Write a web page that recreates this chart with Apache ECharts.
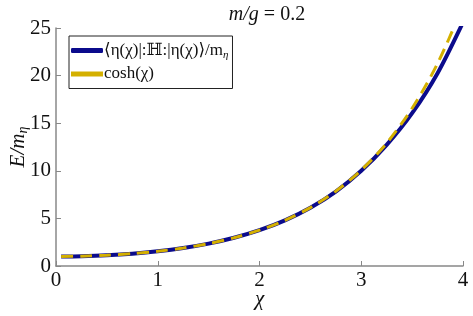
<!DOCTYPE html>
<html><head><meta charset="utf-8">
<script src="https://cdn.jsdelivr.net/npm/echarts@6/dist/echarts.min.js"></script>
<style>html,body{margin:0;padding:0;background:#fff}#c{width:473px;height:316px}</style>
</head><body><div id="c"></div>
<script>
const chiValues = [0.05, 0.25, 0.5, 0.75, 1, 1.25, 1.5, 1.75, 2, 2.25, 2.5, 2.75, 3, 3.25, 3.5, 3.75, 4];
const energyValues = [1.001, 1.031, 1.128, 1.295, 1.543, 1.888, 2.352, 2.963, 3.760, 4.790, 6.115, 7.820, 10.00, 12.72, 16.05, 20.25, 25.6];
const coshValues = [1.001, 1.031, 1.128, 1.295, 1.543, 1.888, 2.352, 2.964, 3.762, 4.797, 6.132, 7.853, 10.07, 12.91, 16.57, 21.27, 27.31];
const xTicks = [0, 1, 2, 3, 4];
const yTicks = [0, 5, 10, 15, 20, 25];
const seriesNames = ['energy', 'cosh'];

const FONT = '"Liberation Serif", "DejaVu Serif", serif';
const chart = echarts.init(document.getElementById('c'), null, {renderer: 'canvas'});
const pairs = ys => chiValues.map((x, i) => [x, ys[i]]);
chart.setOption({
  animation: false,
  grid: {left: 56, right: 10, top: 28, bottom: 50, containLabel: false, outerBoundsMode: 'none'},
  title: {
    text: '{i|m/g} {n|= 0.2}',
    left: 262, textAlign: 'center', top: 0,
    textStyle: {fontWeight: 'normal', rich: {
      i: {fontFamily: FONT, fontStyle: 'italic', fontWeight: 'normal', fontSize: 20, color: '#111'},
      n: {fontFamily: FONT, fontWeight: 'normal', fontSize: 20, color: '#111'}
    }}
  },
  legend: {
    left: 69, top: 36, orient: 'vertical',
    backgroundColor: '#fff', borderColor: '#222', borderWidth: 1, borderRadius: 0,
    padding: [6, 4, 6, 2], itemGap: 5, itemWidth: 32, itemHeight: 5,
    data: [
      {name: 'energy', icon: 'roundRect', itemStyle: {color: '#0b0b8c'}},
      {name: 'cosh', icon: 'rect', itemStyle: {color: '#d4b000'}}
    ],
    formatter: n => n === 'energy' ? '{t|⟨η(χ)|:ℍ:|η(χ)⟩/m}{s|η}' : '{t|cosh(χ)}',
    textStyle: {padding: [0, 0, 0, -4], rich: {
      t: {fontFamily: FONT, fontSize: 17, color: '#111'},
      s: {fontFamily: FONT, fontStyle: 'italic', fontSize: 11, color: '#111', padding: [9, 0, 0, 0]}
    }}
  },
  xAxis: {
    type: 'value', min: 0, max: 4, interval: 1,
    name: 'χ', nameLocation: 'middle', nameGap: 23, nameMoveOverlap: false,
    nameTextStyle: {fontFamily: FONT, fontStyle: 'italic', fontSize: 21, color: '#111'},
    axisLine: {lineStyle: {color: '#888', width: 1.5}},
    axisTick: {inside: true, length: 5, lineStyle: {color: '#888'}},
    axisLabel: {fontFamily: FONT, fontSize: 21, color: '#111', margin: 4, formatter: v => xTicks.includes(v) ? String(v) : ''},
    splitLine: {show: false}
  },
  yAxis: {
    type: 'value', min: 0, max: 25, interval: 5,
    name: '{i|E/m}{s|η}', nameLocation: 'middle', nameGap: 26, nameRotate: 90, nameMoveOverlap: false,
    nameTextStyle: {rich: {
      i: {fontFamily: FONT, fontStyle: 'italic', fontSize: 21, color: '#111'},
      s: {fontFamily: FONT, fontStyle: 'italic', fontSize: 14, color: '#111', padding: [10, 0, 0, 0]}
    }},
    axisLine: {show: true, lineStyle: {color: '#888', width: 1.5}},
    axisTick: {show: true, inside: true, length: 5, lineStyle: {color: '#888'}},
    axisLabel: {fontFamily: FONT, fontSize: 21, color: '#111', margin: 5, formatter: v => yTicks.includes(v) ? String(v) : ''},
    splitLine: {show: false}
  },
  series: [
    {name: seriesNames[0], type: 'line', data: pairs(energyValues), smooth: 0.3, showSymbol: false, clip: true,
     lineStyle: {color: '#0b0b8c', width: 4}, itemStyle: {color: '#0b0b8c'}},
    {name: seriesNames[1], type: 'line', data: pairs(coshValues), smooth: 0.3, showSymbol: false, clip: true,
     lineStyle: {color: '#d4b000', width: 3, type: [12, 7]}, itemStyle: {color: '#d4b000'}}
  ]
});
</script></body></html>
